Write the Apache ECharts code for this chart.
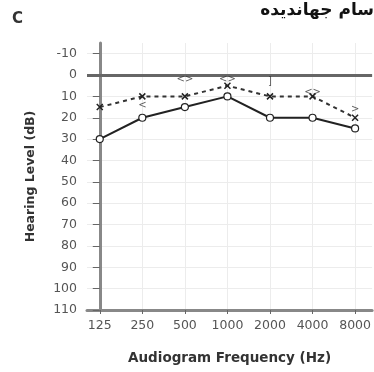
<!DOCTYPE html>
<html>
<head>
<meta charset="utf-8">
<script src="https://cdn.jsdelivr.net/npm/echarts@6/dist/echarts.min.js"></script>
<style>
html,body{margin:0;padding:0;background:#fff;}
#c{width:374px;height:372px;}
</style>
</head>
<body>
<div id="c"></div>
<script>
// ---- data ----
const frequencies = ['125', '250', '500', '1000', '2000', '4000', '8000'];
const levelTicks = [-10, 0, 10, 20, 30, 40, 50, 60, 70, 80, 90, 100, 110];
const solidLevels = [30, 20, 15, 10, 20, 20, 25];     // circles, solid line
const dashedLevels = [15, 10, 10, 5, 10, 10, 20];     // crosses, dashed line
const boneIndex = [1, 2, 3, 4, 5, 6];
const boneLevels = [14, 2, 2, 3, 8, 16];
const boneText = ['<', '<>', '<>', ']', '<>', '>'];
const panelLetter = 'C';
const titleText = 'سام جهاندیده';
const yName = 'Hearing Level (dB)';
const xName = 'Audiogram Frequency (Hz)';

const freqIdx = frequencies.map((_, i) => i);
const FONT = 'DejaVu Sans';

const chart = echarts.init(document.getElementById('c'), null, {renderer: 'canvas'});
chart.setOption({
  animation: false,
  backgroundColor: '#fff',
  grid: {left: 87, right: 0, top: 43, bottom: 62, containLabel: false},
  xAxis: {
    type: 'value', min: -0.3, max: 6.4,
    axisLine: {show: true, onZero: false, lineStyle: {color: '#888', width: 3}},
    axisTick: {show: true, customValues: freqIdx, length: 4, inside: false, lineStyle: {color: '#666', width: 1}},
    axisLabel: {customValues: freqIdx, formatter: v => frequencies[Math.round(v)] || '', color: '#555', fontSize: 12.5, fontFamily: FONT, margin: 9},
    splitLine: {show: true, lineStyle: {color: '#ececec', width: 1}},
    name: xName, nameLocation: 'middle', nameGap: 41,
    nameTextStyle: {fontFamily: FONT, fontWeight: 'bold', fontSize: 13.5, color: '#333'}
  },
  yAxis: {
    type: 'value', inverse: true, min: -15, max: 110,
    axisLine: {show: true, lineStyle: {color: '#888', width: 3}},
    axisTick: {show: true, customValues: levelTicks, length: 7, lineStyle: {color: '#666', width: 1}},
    axisLabel: {customValues: levelTicks, color: '#555', fontSize: 12.5, fontFamily: FONT, margin: 10},
    splitLine: {show: true, lineStyle: {color: '#ececec', width: 1}},
    name: yName, nameLocation: 'middle', nameGap: 50, nameRotate: 90,
    nameTextStyle: {fontFamily: FONT, fontWeight: 'bold', fontSize: 12.5, color: '#333'}
  },
  graphic: [
    {type: 'text', left: 12, top: 12, style: {text: panelLetter, font: 'bold 15px "DejaVu Sans"', fill: '#333'}},
    {type: 'text', right: 0, top: 2, style: {text: titleText, font: 'bold 17px "DejaVu Sans"', fill: '#111'}}
  ],
  series: [
    {
      type: 'line', name: 'zero', data: [], silent: true,
      markLine: {
        symbol: 'none', silent: true, label: {show: false},
        lineStyle: {color: '#666', width: 3, type: 'solid'},
        data: [{yAxis: 0}]
      }
    },
    {
      type: 'line', name: 'dashed',
      data: freqIdx.map(i => [i, dashedLevels[i]]),
      lineStyle: {color: '#333', width: 2, type: [4, 4]},
      symbol: 'path://M0,0L10,10M10,0L0,10', symbolSize: 6,
      itemStyle: {color: 'transparent', borderColor: '#222', borderWidth: 1.5},
      z: 3
    },
    {
      type: 'line', name: 'solid',
      data: freqIdx.map(i => [i, solidLevels[i]]),
      lineStyle: {color: '#222', width: 2},
      symbol: 'circle', symbolSize: 7,
      itemStyle: {color: '#fff', borderColor: '#222', borderWidth: 1.2},
      z: 4
    },
    {
      type: 'scatter', name: 'bone',
      data: boneIndex.map((i, k) => [i, boneLevels[k], boneText[k]]),
      symbolSize: 0,
      label: {show: true, position: 'inside', formatter: p => p.data[2], fontSize: 10, fontFamily: FONT, color: '#333'},
      z: 5
    }
  ]
});
</script>
</body>
</html>
